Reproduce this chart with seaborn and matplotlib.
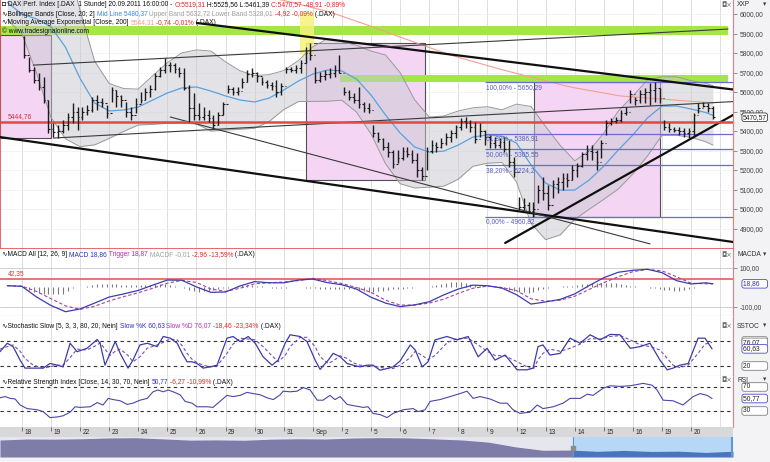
import numpy as np
import matplotlib
matplotlib.use("Agg")
import matplotlib.pyplot as plt
from matplotlib import font_manager
from matplotlib.patches import Rectangle
import seaborn as sns

W, H = 770, 462

# ---------------------------------------------------------------- data
day_labels = ["18", "19", "22", "23", "24", "25", "26", "29", "30", "31", "Sep",
              "2", "5", "6", "7", "8", "9", "12", "13", "14", "15", "16", "19", "20"]
BARS_PER_DAY = 6

# price bars (high / low / close), six per trading day
bar_high = [
    5885, 5782, 5730, 5696, 5679, 5559,   # 18
    5440, 5431, 5457, 5491, 5542, 5525,   # 19
    5525, 5534, 5576, 5585, 5568, 5534,   # 22
    5628, 5611, 5585, 5551, 5525, 5568,   # 23
    5602, 5619, 5636, 5696, 5730, 5773,   # 24
    5756, 5747, 5730, 5722, 5636, 5594,   # 25
    5542, 5525, 5508, 5482, 5500, 5551,   # 26
    5636, 5628, 5628, 5670, 5713, 5722,   # 29
    5705, 5679, 5662, 5653, 5662, 5645,   # 30
    5730, 5730, 5739, 5764, 5833, 5850,   # 31
    5730, 5705, 5713, 5722, 5739, 5790,   # Sep 1
    5628, 5611, 5594, 5628, 5551, 5542,   # 2
    5431, 5397, 5363, 5346, 5303, 5303,   # 5
    5320, 5320, 5303, 5286, 5217, 5320,   # 6
    5354, 5346, 5363, 5388, 5405, 5431,   # 7
    5465, 5474, 5457, 5448, 5440, 5405,   # 8
    5380, 5371, 5363, 5371, 5354, 5269,   # 9
    5064, 5055, 5038, 5038, 5123, 5166,   # 12
    5123, 5149, 5166, 5183, 5183, 5226,   # 13
    5234, 5294, 5328, 5328, 5303, 5354,   # 14
    5457, 5465, 5474, 5508, 5525, 5610,   # 15
    5576, 5610, 5619, 5645, 5653, 5619,   # 16
    5457, 5440, 5422, 5422, 5414, 5414,   # 19
    5491, 5542, 5551, 5542, 5526,         # 20
]
bar_low = [
    5775, 5705, 5645, 5611, 5542, 5388,
    5371, 5363, 5388, 5406, 5440, 5406,
    5457, 5482, 5500, 5508, 5525, 5465,
    5551, 5525, 5525, 5474, 5457, 5491,
    5542, 5559, 5576, 5611, 5679, 5696,
    5705, 5696, 5679, 5611, 5448, 5457,
    5457, 5457, 5448, 5414, 5431, 5482,
    5594, 5585, 5585, 5619, 5653, 5679,
    5653, 5636, 5619, 5611, 5576, 5585,
    5696, 5705, 5696, 5696, 5747, 5764,
    5645, 5653, 5662, 5670, 5679, 5696,
    5585, 5559, 5542, 5517, 5500, 5491,
    5371, 5346, 5303, 5269, 5209, 5235,
    5252, 5269, 5235, 5166, 5149, 5200,
    5286, 5294, 5311, 5328, 5346, 5363,
    5405, 5414, 5397, 5337, 5371, 5328,
    5311, 5311, 5311, 5294, 5217, 5166,
    4995, 4995, 4978, 4961, 5029, 5046,
    4995, 5055, 5081, 5098, 5115, 5149,
    5166, 5217, 5252, 5252, 5200, 5260,
    5380, 5431, 5440, 5448, 5482, 5542,
    5534, 5542, 5542, 5534, 5551, 5542,
    5405, 5397, 5397, 5380, 5371, 5363,
    5371, 5491, 5525, 5499, 5461,
]
bar_close = [
    5790, 5715, 5660, 5625, 5560, 5410,
    5395, 5400, 5430, 5470, 5500, 5470,
    5500, 5510, 5560, 5550, 5545, 5490,
    5610, 5580, 5560, 5500, 5480, 5540,
    5560, 5600, 5615, 5680, 5715, 5740,
    5740, 5720, 5700, 5620, 5520, 5480,
    5470, 5480, 5465, 5430, 5480, 5540,
    5615, 5600, 5605, 5650, 5690, 5700,
    5680, 5650, 5635, 5630, 5600, 5630,
    5720, 5715, 5725, 5750, 5800, 5790,
    5660, 5680, 5690, 5700, 5715, 5700,
    5600, 5575, 5560, 5540, 5520, 5510,
    5390, 5360, 5320, 5290, 5230, 5260,
    5300, 5280, 5250, 5200, 5170, 5300,
    5330, 5320, 5340, 5370, 5390, 5420,
    5450, 5440, 5420, 5360, 5400, 5370,
    5340, 5330, 5345, 5310, 5240, 5190,
    5010, 5020, 4990, 5000, 5100, 5080,
    5020, 5130, 5140, 5160, 5150, 5200,
    5220, 5280, 5300, 5290, 5240, 5340,
    5440, 5450, 5455, 5490, 5500, 5590,
    5560, 5590, 5600, 5610, 5620, 5570,
    5420, 5410, 5405, 5400, 5390, 5400,
    5480, 5520, 5530, 5520, 5470.57,
]
# MACD histogram, one value per price bar
macd_hist = [
    -5, -15, -25, -30, -32, -34,
    -34, -33, -31, -20, -5, 0,
    4, 9, 14, 17, 18, 19,
    19, 17, 15, 13, 13, 12,
    12, 13, 15, 16, 16, 16,
    14, 9, 3, -3, -12, -20,
    -22, -20, -18, -14, -9, -5,
    -1, 5, 10, 12, 12, 11,
    10, 6, 2, -1, -2, -3,
    -3, 0, 2, 1, -1, -3,
    -5, -7, -9, -9, -8, -7,
    -6, -7, -8, -12, -18, -23,
    -24, -20, -16, -12, -10, -9,
    -7, -5, -2, 1, 3, 5,
    8, 13, 20, 25, 27, 28,
    27, 23, 18, 13, 8, 4,
    2, 0, -2, -5, -11, -17,
    -22, -25, -27, -24, -15, -7,
    -3, 0, 3, 6, 8, 10,
    13, 16, 19, 21, 23, 24,
    25, 25, 24, 20, 15, 10,
    6, 3, 1, -2, -5, -8,
    -11, -15, -19, -18, -12, -6,
    -2, 1, 4, 4, 1,
]

# half-day sampled indicator values (time in trading days from Aug 18)
half_t = [-0.5, 0, 0.5, 1, 1.5, 2, 2.5, 3, 3.5, 4, 4.5, 5, 5.5, 6, 6.5, 7, 7.5, 8,
          8.5, 9, 9.5, 10, 10.5, 11, 11.5, 12, 12.5, 13, 13.5, 14, 14.5, 15, 15.5,
          16, 16.5, 17, 17.5, 18, 18.5, 19, 19.5, 20, 20.5, 21, 21.5, 22, 22.5, 23,
          23.5, 23.75]
bb_mid = [6060, 6000, 5975, 5935, 5830, 5670, 5544, 5503, 5508, 5523, 5559, 5595,
          5621, 5626, 5605, 5580, 5559, 5549, 5569, 5610, 5656, 5692, 5713, 5708,
          5667, 5585, 5482, 5390, 5318, 5292, 5297, 5328, 5369, 5380, 5374, 5338,
          5226, 5133, 5097, 5097, 5149, 5220, 5303, 5380, 5467, 5528, 5528, 5513,
          5495, 5480.37]
bb_upper = [6150, 6100, 6250, 6400, 6300, 6020, 5759, 5644, 5618, 5615, 5684, 5750,
            5801, 5816, 5810, 5755, 5709, 5684, 5689, 5710, 5761, 5832, 5873, 5858,
            5840, 5810, 5790, 5700, 5560, 5472, 5477, 5503, 5519, 5525, 5509, 5538,
            5526, 5423, 5327, 5247, 5299, 5390, 5503, 5580, 5662, 5678, 5678, 5658,
            5645, 5632.72]
bb_lower = [5970, 5900, 5700, 5470, 5360, 5320, 5329, 5362, 5398, 5431, 5434, 5440,
            5441, 5436, 5400, 5405, 5409, 5414, 5449, 5510, 5551, 5552, 5553, 5558,
            5497, 5385, 5232, 5130, 5108, 5112, 5117, 5153, 5219, 5235, 5239, 5138,
            4926, 4843, 4867, 4947, 4999, 5050, 5103, 5180, 5272, 5378, 5378, 5368,
            5345, 5328.01]
macd_line = [9, 6, -48, -92, -124, -110, -80, -49, -33, -15, 12, 38, 37, 3, -25,
             -23, 8, 30, 24, 24, 38, 43, 25, 14, -8, -50, -80, -98, -89, -73, -38,
             -8, 12, 9, -3, -37, -85, -74, -61, -33, 10, 50, 78, 88, 93, 76, 35, 18,
             24, 18.86]
macd_trigger = [9, 7, -20, -57, -94, -112, -96, -69, -47, -27, -4, 22, 36, 26, -8,
                -20, -4, 19, 24, 28, 35, 47, 35, 20, 0, -25, -65, -90, -90, -80, -60,
                -30, -4, 7, 0, -16, -58, -70, -65, -45, -10, 25, 55, 81, 93, 85, 55,
                22, 19, 18.87]

ema_t = [-0.75, 3, 6, 9, 10.59, 11.87, 13.0, 14.72, 16.54, 18.84, 20.56, 22.87, 23.75]
ema_200 = [6350, 6250, 6150, 6070, 6010, 5944, 5882, 5790, 5713, 5626, 5580, 5554, 5544.31]

stoch_t = [-0.75, -0.50, -0.30, -0.06, 0.11, 0.39, 0.73, 0.97, 1.21, 1.42, 1.66, 1.90,
           2.24, 2.59, 2.69, 2.86, 3.03, 3.21, 3.38, 3.65, 3.82, 4.06, 4.31, 4.65,
           4.86, 5.10, 5.34, 5.51, 5.68, 5.85, 6.02, 6.23, 6.47, 6.71, 7.05, 7.26,
           7.50, 7.78, 8.02, 8.29, 8.60, 8.81, 9.05, 9.22, 9.56, 9.80, 10.08, 10.25,
           10.53, 10.70, 10.94, 11.18, 11.38, 11.62, 11.87, 12.07, 12.31, 12.55,
           12.76, 13.00, 13.35, 13.52, 13.76, 13.96, 14.20, 14.61, 14.96, 15.34,
           15.68, 15.99, 16.26, 16.61, 17.02, 17.36, 17.57, 17.74, 17.91, 18.15,
           18.50, 18.84, 19.19, 19.53, 19.87, 20.22, 20.56, 20.91, 21.25, 21.59,
           21.93, 22.18, 22.38, 22.62, 22.90, 23.24, 23.48, 23.72]
stoch_k = [54, 74, 66, 34, 15, 15, 15, 26, 22, 18, 74, 54, 62, 83, 74, 22, 50, 78, 50,
           15, 34, 70, 74, 66, 90, 86, 74, 50, 30, 30, 26, 15, 18, 22, 86, 90, 78, 90,
           74, 42, 22, 34, 74, 94, 90, 78, 34, 12, 34, 50, 42, 26, 22, 18, 22, 22, 10,
           14, 18, 32, 70, 58, 18, 30, 82, 90, 82, 90, 42, 62, 34, 46, 11, 11, 15, 66,
           70, 46, 50, 86, 74, 94, 82, 95, 94, 62, 66, 74, 34, 11, 15, 22, 26, 86, 86,
           60.63]
stoch_d = [60, 66, 70, 55, 38, 22, 15, 18, 22, 22, 40, 60, 58, 70, 75, 60, 45, 55, 60,
           45, 30, 42, 62, 70, 76, 84, 82, 68, 50, 36, 28, 22, 18, 20, 50, 72, 86, 84,
           82, 66, 44, 30, 45, 66, 88, 88, 66, 42, 26, 32, 44, 38, 28, 22, 20, 20, 17,
           14, 14, 22, 40, 55, 45, 35, 45, 75, 85, 86, 70, 55, 45, 44, 30, 18, 12, 35,
           50, 60, 55, 62, 72, 85, 84, 90, 92, 82, 70, 66, 58, 38, 22, 16, 22, 50, 72,
           76.07]

rsi_t = [-0.75, -0.57, -0.40, -0.23, -0.06, 0.18, 0.53, 0.73, 0.97, 1.21, 1.42, 1.66,
         1.83, 2.00, 2.35, 2.59, 2.79, 2.97, 3.14, 3.38, 3.62, 3.82, 4.06, 4.31, 4.51,
         4.68, 4.86, 5.03, 5.20, 5.44, 5.61, 5.85, 6.02, 6.37, 6.57, 6.81, 7.05, 7.26,
         7.50, 7.74, 7.95, 8.19, 8.43, 8.64, 8.88, 8.98, 9.22, 9.46, 9.67, 9.91, 10.15,
         10.35, 10.59, 10.76, 10.94, 11.18, 11.38, 11.73, 11.90, 12.07, 12.31, 12.55,
         12.76, 13.10, 13.45, 13.62, 13.86, 14.03, 14.37, 14.72, 15.06, 15.30, 15.51,
         15.75, 16.09, 16.44, 16.68, 16.88, 17.12, 17.46, 17.71, 17.91, 18.26, 18.60,
         18.84, 19.19, 19.43, 19.63, 19.98, 20.22, 20.56, 20.91, 21.35, 21.66, 21.83,
         22.04, 22.38, 22.72, 23.07, 23.31, 23.55, 23.72]
rsi = [52, 54, 51, 50, 40, 34, 32, 29, 19, 20, 22, 28, 37, 36, 37, 44, 40, 51, 49, 47,
       41, 43, 48, 51, 62, 65, 62, 65, 62, 57, 46, 43, 37, 37, 36, 46, 56, 54, 56, 61,
       59, 57, 52, 49, 57, 63, 62, 63, 69, 65, 48, 48, 56, 49, 54, 41, 39, 36, 37, 26,
       24, 19, 26, 32, 34, 29, 32, 46, 49, 54, 59, 63, 51, 54, 50, 43, 43, 32, 26, 28,
       40, 34, 37, 43, 51, 51, 58, 56, 68, 72, 71, 72, 76, 73, 65, 48, 47, 40, 54, 59,
       56, 50.77]

# drawing tools on the price chart: (t0, p0, t1, p1)
thick_lines = [(6.02, 5954, 24.44, 5613), (-0.75, 5369, 24.44, 4831), (16.61, 4826, 24.44, 5482)]
thin_lines = [(1.08, 5364, 24.44, 5551), (0.39, 5738, 24.27, 5923), (5.10, 5472, 21.59, 4821)]
pink_boxes = [(-0.75, 1.0, 5364, 5892), (9.77, 13.86, 5149, 5851), (17.60, 21.93, 4960.82, 5650.29)]
green_bands = [(-0.75, 24.27, 5892, 5938), (10.94, 24.27, 5654, 5687)]
yellow_box = (9.56, 10.04, 5790, 6005)
fib_levels = [5650.29, 5386.91, 5305.55, 5224.2, 4960.82]
fib_names = ["100,00% - 5650,29", "61,80% - 5386,91", "50,00% - 5305,55",
             "38,20% - 5224,2", "0,00% - 4960,82"]
fib_start = 15.92
red_level = 5444.76
macd_level = 42.35

# overview navigator (long history)
nav_close = [7210, 7380, 7350, 7420, 7560, 7600, 7400, 7190, 7230, 7170, 7350, 7420,
             7380, 7550, 7610, 7570, 7400, 7220, 6850, 6050, 5480, 5520, 5310, 5460,
             5280, 5330, 5120, 5320]
nav_sel = 21.1

# ---------------------------------------------------------------- style
sns.set_style("white")
names = {f.name for f in font_manager.fontManager.ttflist}
if "Liberation Sans Narrow" in names:
    FONT, FS = "Liberation Sans Narrow", 5.6
else:
    FONT, FS = "Liberation Sans", 4.8
plt.rcParams["font.family"] = [FONT, "DejaVu Sans"]

BLACK, RED, GRAY = "#101010", "#e02828", "#a0a0a0"

fig = plt.figure(figsize=(W / 100, H / 100), dpi=100, facecolor="#f3f3f5")


def px_axes(x0, y0, x1, y1):
    return fig.add_axes([x0 / W, 1 - y1 / H, (x1 - x0) / W, (y1 - y0) / H])


ax = px_axes(0, 0, 733, 249)
ax_macd = px_axes(0, 249, 733, 316)
ax_sto = px_axes(0, 316, 733, 376)
ax_rsi = px_axes(0, 376, 733, 427)
ax_date = px_axes(0, 427, 733, 437)
ax_nav = px_axes(0, 437, 733, 457)

for a in (ax, ax_macd, ax_sto, ax_rsi):
    a.set_xlim(-0.75, 24.44)
    a.set_facecolor("white")
    a.set_xticks(range(0, 25))
    a.tick_params(axis="x", length=0, labelbottom=False)
    a.xaxis.grid(True, color="#d9d9d9", lw=0.6)
    a.set_axisbelow(True)
    a.yaxis.tick_right()
    a.tick_params(axis="y", direction="out", length=3, width=0.6, color="#808080",
                  labelsize=FS, labelcolor="#404040", pad=2)
    for s in ("top", "left", "bottom"):
        a.spines[s].set_visible(False)
    a.spines["right"].set(color="#e08080", linestyle=(0, (1, 1)), linewidth=0.8)
    a.spines["bottom"].set(visible=True, color="#b8b8b8", linewidth=0.8)

ax.spines["left"].set(visible=True, color="#e05050", linewidth=1.2)
ax.spines["bottom"].set(color="#e05050", linewidth=1.2)


def line(a, x, y, color, lw=0.8, ls="-", z=4):
    sns.lineplot(x=np.asarray(x, float), y=np.asarray(y, float), ax=a, color=color,
                 linewidth=lw, linestyle=ls, zorder=z, legend=False,
                 estimator=None, sort=False)


def seg_text(a, x_px, y_px, parts, size=FS):
    prev = None
    for s, c in parts:
        if prev is None:
            prev = a.annotate(s, xy=(x_px, H - y_px), xycoords="figure pixels",
                              va="center", ha="left", color=c, fontsize=size,
                              annotation_clip=False, zorder=30)
        else:
            prev = a.annotate(s, xy=(1, 0), xycoords=prev, va="bottom", ha="left",
                              color=c, fontsize=size, annotation_clip=False, zorder=30)


def value_box(a, v, text, ec, tc="#202020"):
    a.annotate(text, xy=(1, v), xycoords=a.get_yaxis_transform(), xytext=(7, 0),
               textcoords="offset points", va="center", ha="left", fontsize=FS,
               color=tc, annotation_clip=False, zorder=40,
               bbox=dict(boxstyle="round,pad=0.12,rounding_size=0.35", fc="white",
                         ec=ec, lw=0.6))


# ---------------------------------------------------------------- price panel
ax.set_ylim(4795, 6072)
ax.set_yticks(range(4900, 6001, 100))
ax.set_yticklabels([f"{v},00" for v in range(4900, 6001, 100)])
ax.yaxis.grid(True, color="#efefef", lw=0.5)

for t0, t1, p0, p1 in pink_boxes:
    ax.add_patch(Rectangle((t0, p0), t1 - t0, p1 - p0, fc="#f4d6f4", ec="#505050",
                           lw=0.8, zorder=1))
for t0, t1, p0, p1 in green_bands:
    ax.add_patch(Rectangle((t0, p0), t1 - t0, p1 - p0, fc="#a4e645", ec="none", zorder=1.2))
t0, t1, p0, p1 = yellow_box
ax.add_patch(Rectangle((t0, p0), t1 - t0, p1 - p0, fc="#f6f27a", ec="none", alpha=0.85, zorder=1.3))

ax.fill_between(half_t, bb_lower, bb_upper, color="#c9c9d1", alpha=0.5, lw=0, zorder=2)
line(ax, half_t, bb_upper, "#9a9a9a", 0.7, z=2.5)
line(ax, half_t, bb_lower, "#9a9a9a", 0.7, z=2.5)
line(ax, half_t, bb_mid, "#5aa2de", 0.9, z=3)
line(ax, ema_t, ema_200, "#f2a090", 0.8, z=3)

for lvl, name in zip(fib_levels, fib_names):
    ax.hlines(lvl, fib_start, 24.44, color="#6a6ad2", lw=0.9, zorder=3.5)
    ax.annotate(name, xy=(fib_start + 0.03, lvl), xytext=(0, -1), textcoords="offset points",
                va="top", ha="left", fontsize=FS, color="#5a5ac0", zorder=8)

for t0, p0, t1, p1 in thick_lines:
    line(ax, [t0, t1], [p0, p1], "#101010", 1.6, z=5)
for t0, p0, t1, p1 in thin_lines:
    line(ax, [t0, t1], [p0, p1], "#3a3a3a", 0.8, z=5)

ax.axhline(red_level, color="#e24848", lw=1.8, zorder=5.5)
ax.annotate("5444,76", xy=(-0.48, red_level), xytext=(0, 1.5), textcoords="offset points",
            va="bottom", ha="left", fontsize=FS, color="#d83030", zorder=8)

t_bar = np.array([d + (j + 0.5) / BARS_PER_DAY for d in range(len(day_labels))
                  for j in range(BARS_PER_DAY)])[:len(bar_close)]
bar_open = np.r_[5880, np.asarray(bar_close[:-1], float)]
ax.vlines(t_bar, bar_low, bar_high, color="#1c1c1c", lw=1.0, zorder=6)
ax.hlines(bar_close, t_bar, t_bar + 0.055, color="#1c1c1c", lw=0.8, zorder=6)
ax.hlines(bar_open, t_bar - 0.055, t_bar, color="#1c1c1c", lw=0.8, zorder=6)

seg_text(ax, 2, 5, [("◘ DAX Perf. Index [.DAX  1 Stunde] 20.09.2011 16:00:00 - ", BLACK),
                    ("O:5519,31", RED), (" H:5525,56 L:5461,39 ", BLACK),
                    ("C:5470,57 -48,91 -0,89%", RED)])
seg_text(ax, 2, 14, [("∿Bollinger Bands [Close, 20; 2] ", BLACK), ("Mid Line 5480,37", "#3a8ee0"),
                     (" Upper Band 5632,72 Lower Band 5328,01", GRAY), (" -4,92 -0,09%", RED),
                     (" (.DAX)", BLACK)])
seg_text(ax, 2, 22.5, [("∿Moving Average Exponential [Close, 200] ", BLACK),
                       ("5544,31", "#f0a090"), (" -0,74 -0,01%", RED), (" (.DAX)", BLACK)])
seg_text(ax, 2, 31, [("© www.tradesignalonline.com", BLACK)])
value_box(ax, 5470.57, "5470,57", "#404040")

# ---------------------------------------------------------------- MACD panel
ax_macd.set_ylim(-146, 197)
ax_macd.set_yticks([-100, 100])
ax_macd.set_yticklabels(["-100,00", "100,00"])
ax_macd.yaxis.grid(True, color="#c8c8c8", lw=0.6)
ax_macd.vlines(t_bar, 0, macd_hist, color="#7a7a7a", lw=0.8, zorder=3)
ax_macd.axhline(macd_level, color="#e05050", lw=1.1, zorder=3.5)
line(ax_macd, half_t, macd_trigger, "#a8409a", 0.8, ls=(0, (3, 2)), z=4)
line(ax_macd, half_t, macd_line, "#3c3cb0", 0.9, z=5)
ax_macd.annotate("42,35", xy=(-0.48, macd_level), xytext=(0, 1.5), textcoords="offset points",
                 va="bottom", ha="left", fontsize=FS, color="#d83030")
seg_text(ax_macd, 2, 255, [("∿MACD All [12, 26, 9] ", BLACK), ("MACD 18,86", "#3030c0"),
                           (" Trigger 18,87", "#b030b0"), (" MACDF -0,01", GRAY),
                           (" -2,96 -13,59%", RED), (" (.DAX)", BLACK)])
value_box(ax_macd, 18.86, "18,86    ", "#5050c8", "#3030a0")

# ---------------------------------------------------------------- stochastic panel
ax_sto.set_ylim(-3.7, 138.6)
ax_sto.set_yticks([])
for lvl in (80, 20):
    ax_sto.axhline(lvl, color="#303030", lw=0.8, ls=(0, (3, 3)), zorder=3)
line(ax_sto, stoch_t, stoch_d, "#7a50b0", 0.8, ls=(0, (3, 2)), z=4)
line(ax_sto, stoch_t, stoch_k, "#3c3ca8", 0.9, z=5)
seg_text(ax_sto, 2, 326, [("∿Stochastic Slow [5, 3, 3, 80, 20, Nein] ", BLACK),
                          ("Slow %K 60,63", "#3030c0"), (" Slow %D 76,07", "#b030b0"),
                          (" -18,46 -23,34%", RED), (" (.DAX)", BLACK)])
value_box(ax_sto, 80, "80,00    ", "#909090")
value_box(ax_sto, 76.07, "76,07    ", "#808080")
value_box(ax_sto, 60.63, "60,63    ", "#5050c8")
value_box(ax_sto, 20, "20         ", "#808080")

# ---------------------------------------------------------------- RSI panel
ax_rsi.set_ylim(3.3, 88.3)
ax_rsi.set_yticks([])
for lvl in (70, 30):
    ax_rsi.axhline(lvl, color="#303030", lw=0.8, ls=(0, (3, 3)), zorder=3)
line(ax_rsi, rsi_t, rsi, "#4848a8", 0.8, z=5)
seg_text(ax_rsi, 2, 382, [("∿Relative Strength Index [Close, 14, 30, 70, Nein] ", BLACK),
                          ("50,77", "#3030c0"), (" -6,27 -10,99%", RED), (" (.DAX)", BLACK)])
value_box(ax_rsi, 70, "70         ", "#808080")
value_box(ax_rsi, 50.77, "50,77    ", "#5050c8")
value_box(ax_rsi, 30, "30         ", "#808080")

# ---------------------------------------------------------------- date strip
ax_date.set_xlim(-0.75, 24.44)
ax_date.set_ylim(0, 1)
ax_date.set_facecolor("#d8d8da")
ax_date.set_xticks([])
ax_date.set_yticks([])
for s in ax_date.spines.values():
    s.set_visible(False)
ax_date.vlines(range(len(day_labels)), 0.6, 1.0, color="#606060", lw=0.6)
for k, lab in enumerate(day_labels):
    ax_date.text(k + 0.09, 0.45, lab, va="center", ha="left", fontsize=FS, color="#303030")

# ---------------------------------------------------------------- navigator
nav_x = np.arange(len(nav_close))
ax_nav.set_xlim(0, len(nav_close) - 1)
ax_nav.set_ylim(4350, 7720)
ax_nav.set_facecolor("#e6e6ee")
ax_nav.set_xticks([])
ax_nav.set_yticks([])
for s in ax_nav.spines.values():
    s.set_visible(False)
ax_nav.axvspan(nav_sel, len(nav_close) - 1, color="#b6d8f6", zorder=1)
left = ax_nav.fill_between(nav_x, 4350, nav_close, color="#7e7ca8", lw=0, zorder=2)
left.set_clip_path(Rectangle((0, 0), nav_sel, 1e5, transform=ax_nav.transData))
right = ax_nav.fill_between(nav_x, 4350, nav_close, color="#4a74bc", lw=0, zorder=2)
right.set_clip_path(Rectangle((nav_sel, 0), 100, 1e5, transform=ax_nav.transData))
ax_nav.axvline(nav_sel, color="#5a98d8", lw=0.8, zorder=3)
ax_nav.axvline(len(nav_close) - 1.05, color="#5a98d8", lw=1.5, zorder=3)
ax_nav.plot([nav_sel], [5900], marker="s", ms=3.5, color="#8c8c8c", zorder=4)

# ---------------------------------------------------------------- right-hand labels
for y_px, name in ((5, "XXP"), (255, "MACDA"), (326, "SSTOC"), (380, "RSI")):
    fig.text(737 / W, 1 - y_px / H, name, fontsize=FS, color="#303030", va="center")
    fig.text(763 / W, 1 - y_px / H, "▾", fontsize=FS, color="#404040", va="center")
    fig.text(721 / W, 1 - y_px / H, "◘×", fontsize=FS, color="#707070", va="center",
             family="DejaVu Sans")

fig.savefig("out.png", dpi=100, facecolor=fig.get_facecolor())
